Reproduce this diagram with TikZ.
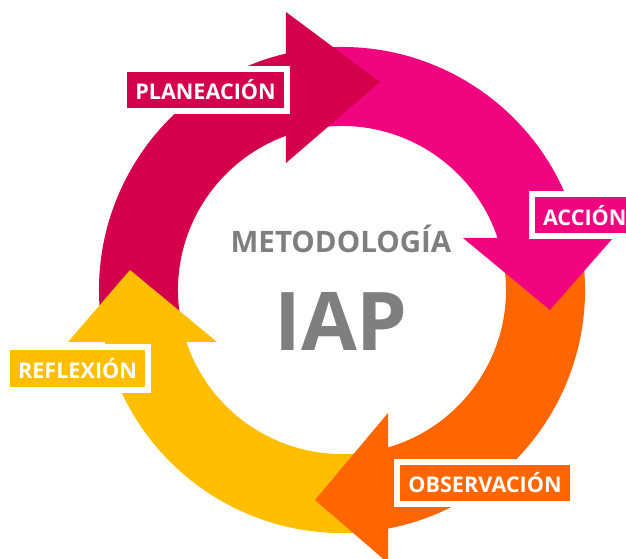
\documentclass[tikz,border=0pt]{standalone}
\usepackage{fontspec}
\setmainfont{Open Sans}
\usepackage{tikz}

\definecolor{planred}{HTML}{D5004B}
\definecolor{actpink}{HTML}{F0047F}
\definecolor{obsorange}{HTML}{FF6600}
\definecolor{refyellow}{HTML}{FFBF00}
\definecolor{iapgray}{HTML}{7F7F7F}

\begin{document}
\begin{tikzpicture}[x=1pt, y=1pt,
  stage/.style={draw=white, line width=6pt, outer sep=0pt, text=white,
                minimum height=42pt, inner xsep=11pt, inner ysep=0pt,
                font=\fontsize{21.6}{21.6}\selectfont\bfseries},
  centre/.style={text=iapgray, anchor=base, inner sep=0pt}
]
  \useasboundingbox (-342,-269) rectangle (284,290);

  % ring bodies
  \fill[planred]   (189:243) arc[start angle=189, end angle=100, radius=243]
                   -- (100:164) arc[start angle=100, end angle=189, radius=164] -- cycle;
  \fill[actpink]   (99:243) arc[start angle=99, end angle=10, radius=243]
                   -- (10:164) arc[start angle=10, end angle=99, radius=164] -- cycle;
  \fill[obsorange] (9:243) arc[start angle=9, end angle=-80, radius=243]
                   -- (-80:164) arc[start angle=-80, end angle=9, radius=164] -- cycle;
  \fill[refyellow] (-81:243) arc[start angle=-81, end angle=-170, radius=243]
                   -- (-170:164) arc[start angle=-170, end angle=-81, radius=164] -- cycle;

  % arrow heads
  \fill[planred]   (-56,278) -- (38,208) -- (-56,127) -- cycle;
  \fill[actpink]   (121,52) -- (208,-20) -- (271,52) -- cycle;
  \fill[obsorange] (46,-123) -- (-27,-210) -- (46,-273) -- cycle;
  \fill[refyellow] (-274,-52) -- (-212,20) -- (-125,-52) -- cycle;

  % labels
  \node[stage, fill=planred]   (plan)   at (-136.5,200)   {PLANEACIÓN};
  \node[stage, fill=actpink, anchor=west] (accion) at (190,74.5) {ACCIÓN};
  \node[stage, fill=obsorange] (obs)    at (143,-193)     {OBSERVACIÓN};
  \node[stage, fill=refyellow] (refl)   at (-264.5,-78.5) {REFLEXIÓN};

  \node[centre, font=\fontsize{29.5}{29.5}\selectfont\bfseries] (title) at (-1,37)  {METODOLOGÍA};
  \node[centre, font=\fontsize{81}{81}\selectfont\bfseries] (iap)   at (-1,-60) {IAP};
\end{tikzpicture}
\end{document}
